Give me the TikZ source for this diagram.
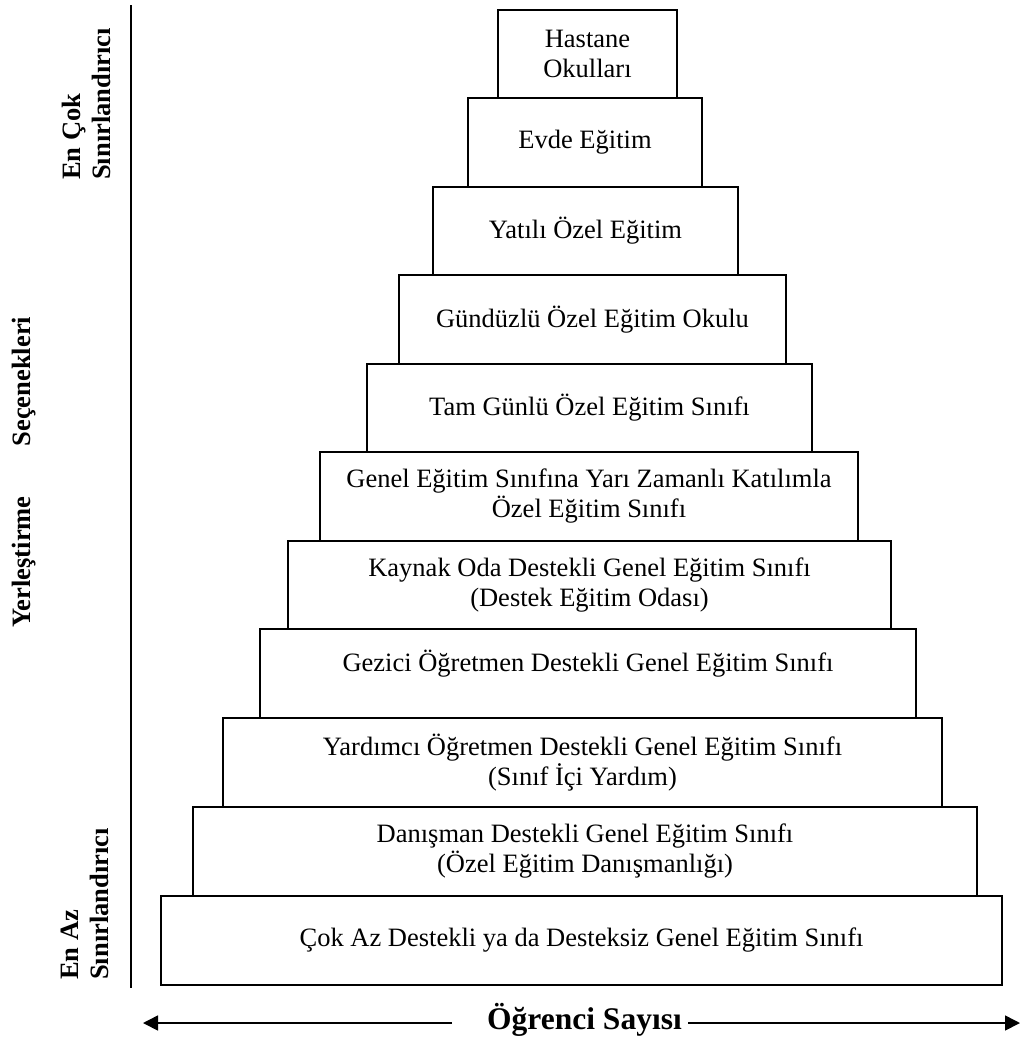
\documentclass[tikz,border=0pt]{standalone}
\usepackage{fontspec}
\setmainfont{Liberation Serif}
\usetikzlibrary{arrows.meta}
\begin{document}
\begin{tikzpicture}[x=1pt,y=-1pt,
  stepbox/.style={draw, line width=1.6pt, inner sep=0pt, outer sep=0pt},
  boxtext/.style={font=\fontsize{26.5}{30}\selectfont, align=center, inner sep=0pt},
  sidelabel/.style={font=\fontsize{26.5}{30}\selectfont\bfseries, rotate=90, anchor=base west, inner sep=0pt},
  axistitle/.style={font=\fontsize{31.5}{36}\selectfont\bfseries, anchor=base, inner sep=0pt},
  axisarrow/.style={line width=1.6pt, -{Triangle[length=15pt,width=15pt]}},
  axisline/.style={line width=1.6pt}]
\useasboundingbox (0,0) rectangle (1020,1039);

% pyramid boxes
\node[stepbox, minimum width=179pt, minimum height=88pt] (b1) at (587.5,54) {};
\node[stepbox, minimum width=234pt, minimum height=89pt] (b2) at (585,142.5) {};
\node[stepbox, minimum width=305pt, minimum height=88pt] (b3) at (585.5,231) {};
\node[stepbox, minimum width=387pt, minimum height=89pt] (b4) at (592.5,319.5) {};
\node[stepbox, minimum width=445pt, minimum height=88pt] (b5) at (589.5,408) {};
\node[stepbox, minimum width=538pt, minimum height=89pt] (b6) at (589,496.5) {};
\node[stepbox, minimum width=603pt, minimum height=88pt] (b7) at (589.5,585) {};
\node[stepbox, minimum width=656pt, minimum height=89pt] (b8) at (588,673.5) {};
\node[stepbox, minimum width=719pt, minimum height=89pt] (b9) at (582.5,762.5) {};
\node[stepbox, minimum width=784pt, minimum height=89pt] (b10) at (585,851.5) {};
\node[stepbox, minimum width=841pt, minimum height=89pt] (b11) at (581.5,940.5) {};

% box texts
\node[boxtext] (t1) at (b1.center) {Hastane\\Okulları};
\node[boxtext] (t2) at (b2.center) {Evde Eğitim};
\node[boxtext] (t3) at (b3.center) {Yatılı Özel Eğitim};
\node[boxtext] (t4) at (b4.center) {Gündüzlü Özel Eğitim Okulu};
\node[boxtext] (t5) at (b5.center) {Tam Günlü Özel Eğitim Sınıfı};
\node[boxtext] (t6) at (b6.center) {Genel Eğitim Sınıfına Yarı Zamanlı Katılımla\\Özel Eğitim Sınıfı};
\node[boxtext] (t7) at (b7.center) {Kaynak Oda Destekli Genel Eğitim Sınıfı\\(Destek Eğitim Odası)};
\node[boxtext] (t8) at ([yshift=10pt]b8.center) {Gezici Öğretmen Destekli Genel Eğitim Sınıfı};
\node[boxtext] (t9) at (b9.center) {Yardımcı Öğretmen Destekli Genel Eğitim Sınıfı\\(Sınıf İçi Yardım)};
\node[boxtext] (t10) at (b10.center) {Danışman Destekli Genel Eğitim Sınıfı\\(Özel Eğitim Danışmanlığı)};
\node[boxtext] (t11) at (b11.center) {Çok Az Destekli ya da Desteksiz Genel Eğitim Sınıfı};

% left axis
\coordinate (vtop) at (131,5);
\coordinate (vbot) at (131,988);
\draw[axisline] (vtop) -- (vbot);

\node[sidelabel] (l1a) at (80.5,180) {En Çok};
\node[sidelabel] (l1b) at (110,180) {Sınırlandırıcı};
\node[sidelabel, anchor=base] (l2) at (30,472) {Yerleştirme\hspace{50pt}Seçenekleri};
\node[sidelabel] (l3a) at (78,980) {En Az};
\node[sidelabel] (l3b) at (108,980) {Sınırlandırıcı};

% bottom axis
\node[axistitle] (ogr) at (584.5,1029) {Öğrenci Sayısı};
\coordinate (aleft) at (143,1023);
\coordinate (aright) at (1020,1023);
\coordinate (sleft) at (452,1023);
\coordinate (sright) at (688,1023);
\draw[axisarrow] (sleft) -- (aleft);
\draw[axisarrow] (sright) -- (aright);
\end{tikzpicture}
\end{document}
